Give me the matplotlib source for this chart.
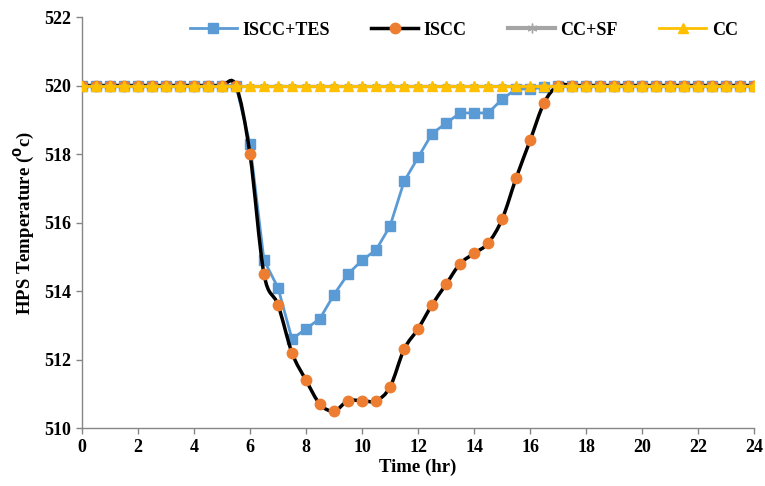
import numpy as np
import matplotlib
matplotlib.use('Agg')
import matplotlib.pyplot as plt
from matplotlib.path import Path
from matplotlib.patches import PathPatch
from matplotlib.lines import Line2D

plt.rcParams['font.family'] = ['Liberation Serif', 'DejaVu Serif']
plt.rcParams['font.weight'] = 'bold'

# Data (time step 0.5 hr)
time_hr = np.arange(0, 24.5, 0.5)

iscc_tes = [520] * 12 + [
    518.3, 514.9, 514.1, 512.6, 512.9, 513.2, 513.9, 514.5, 514.9, 515.2,
    515.9, 517.2, 517.9, 518.6, 518.9, 519.2, 519.2, 519.2, 519.6, 519.9,
    519.9, 519.95] + [520] * 15

iscc = [520] * 12 + [
    518.0, 514.5, 513.6, 512.2, 511.4, 510.7, 510.5, 510.8, 510.8, 510.8,
    511.2, 512.3, 512.9, 513.6, 514.2, 514.8, 515.1, 515.4, 516.1, 517.3,
    518.4, 519.5] + [520] * 15

cc_sf = [520] * len(time_hr)
cc = [520] * len(time_hr)

x_ticks = list(range(0, 25, 2))
y_ticks = list(range(510, 523, 2))

c_blue = '#5B9BD5'
c_orange = '#ED7D31'
c_gray = '#A5A5A5'
c_yellow = '#FFC000'


def smooth_path(x, y, t=1/6):
    # Catmull-Rom style bezier path through the data points (Excel "smoothed line")
    x = np.asarray(x, float)
    y = np.asarray(y, float)
    verts = [(x[0], y[0])]
    codes = [Path.MOVETO]
    n = len(x)
    for i in range(n - 1):
        x0, y0 = (x[i - 1], y[i - 1]) if i > 0 else (x[i], y[i])
        x3, y3 = (x[i + 2], y[i + 2]) if i + 2 < n else (x[i + 1], y[i + 1])
        c1 = (x[i] + (x[i + 1] - x0) * t, y[i] + (y[i + 1] - y0) * t)
        c2 = (x[i + 1] - (x3 - x[i]) * t, y[i + 1] - (y3 - y[i]) * t)
        verts += [c1, c2, (x[i + 1], y[i + 1])]
        codes += [Path.CURVE4] * 3
    return Path(verts, codes)


fig = plt.figure(figsize=(7.65, 4.86), dpi=100)
ax = fig.add_axes([0.107, 0.119, 0.879, 0.846])

ax.plot(time_hr, iscc_tes, color=c_blue, lw=2, marker='s', ms=7,
        zorder=3)
ax.add_patch(PathPatch(smooth_path(time_hr, iscc), fc='none', ec='black',
                       lw=2.5, zorder=4))
ax.plot(time_hr, iscc, ls='none', marker='o', ms=7.5, color=c_orange,
        zorder=5)
ax.plot(time_hr, cc_sf, color=c_gray, lw=2.5, marker=(6, 2, 0), ms=6,
        mew=1, zorder=6)
ax.plot(time_hr, cc, color=c_yellow, lw=2, marker='^', ms=7, zorder=7)

ax.set_xlim(0, 24)
ax.set_ylim(510, 522)
ax.set_xticks(x_ticks)
ax.set_yticks(y_ticks)
ax.tick_params(labelsize=13, length=4, color='#868686', width=1)
for lbl in ax.get_xticklabels() + ax.get_yticklabels():
    lbl.set_fontweight('bold')
for s in ['top', 'right']:
    ax.spines[s].set_visible(False)
for s in ['left', 'bottom']:
    ax.spines[s].set_color('#868686')
    ax.spines[s].set_linewidth(1)

ax.set_xlabel('Time (hr)', fontsize=13.5, fontweight='bold', labelpad=2)
ax.set_ylabel('HPS Temperature ($\\mathbf{^{0}}$c)', fontsize=13.5,
              fontweight='bold', labelpad=6)

handles = [
    Line2D([], [], color=c_blue, lw=2, marker='s', ms=7),
    Line2D([], [], color='black', lw=2.5, marker='o', ms=7.5, mfc=c_orange, mec=c_orange),
    Line2D([], [], color=c_gray, lw=3, marker=(6, 2, 0), ms=7, mew=1),
    Line2D([], [], color=c_yellow, lw=2, marker='^', ms=7),
]
ax.legend(handles, ['ISCC+TES', 'ISCC', 'CC+SF', 'CC'], ncol=4,
          loc='center', bbox_to_anchor=(0.568, 0.968), frameon=False,
          prop={'size': 13, 'weight': 'bold'}, handlelength=2.6,
          columnspacing=2.3, handletextpad=0.3)

fig.savefig('out.png', dpi=100)
